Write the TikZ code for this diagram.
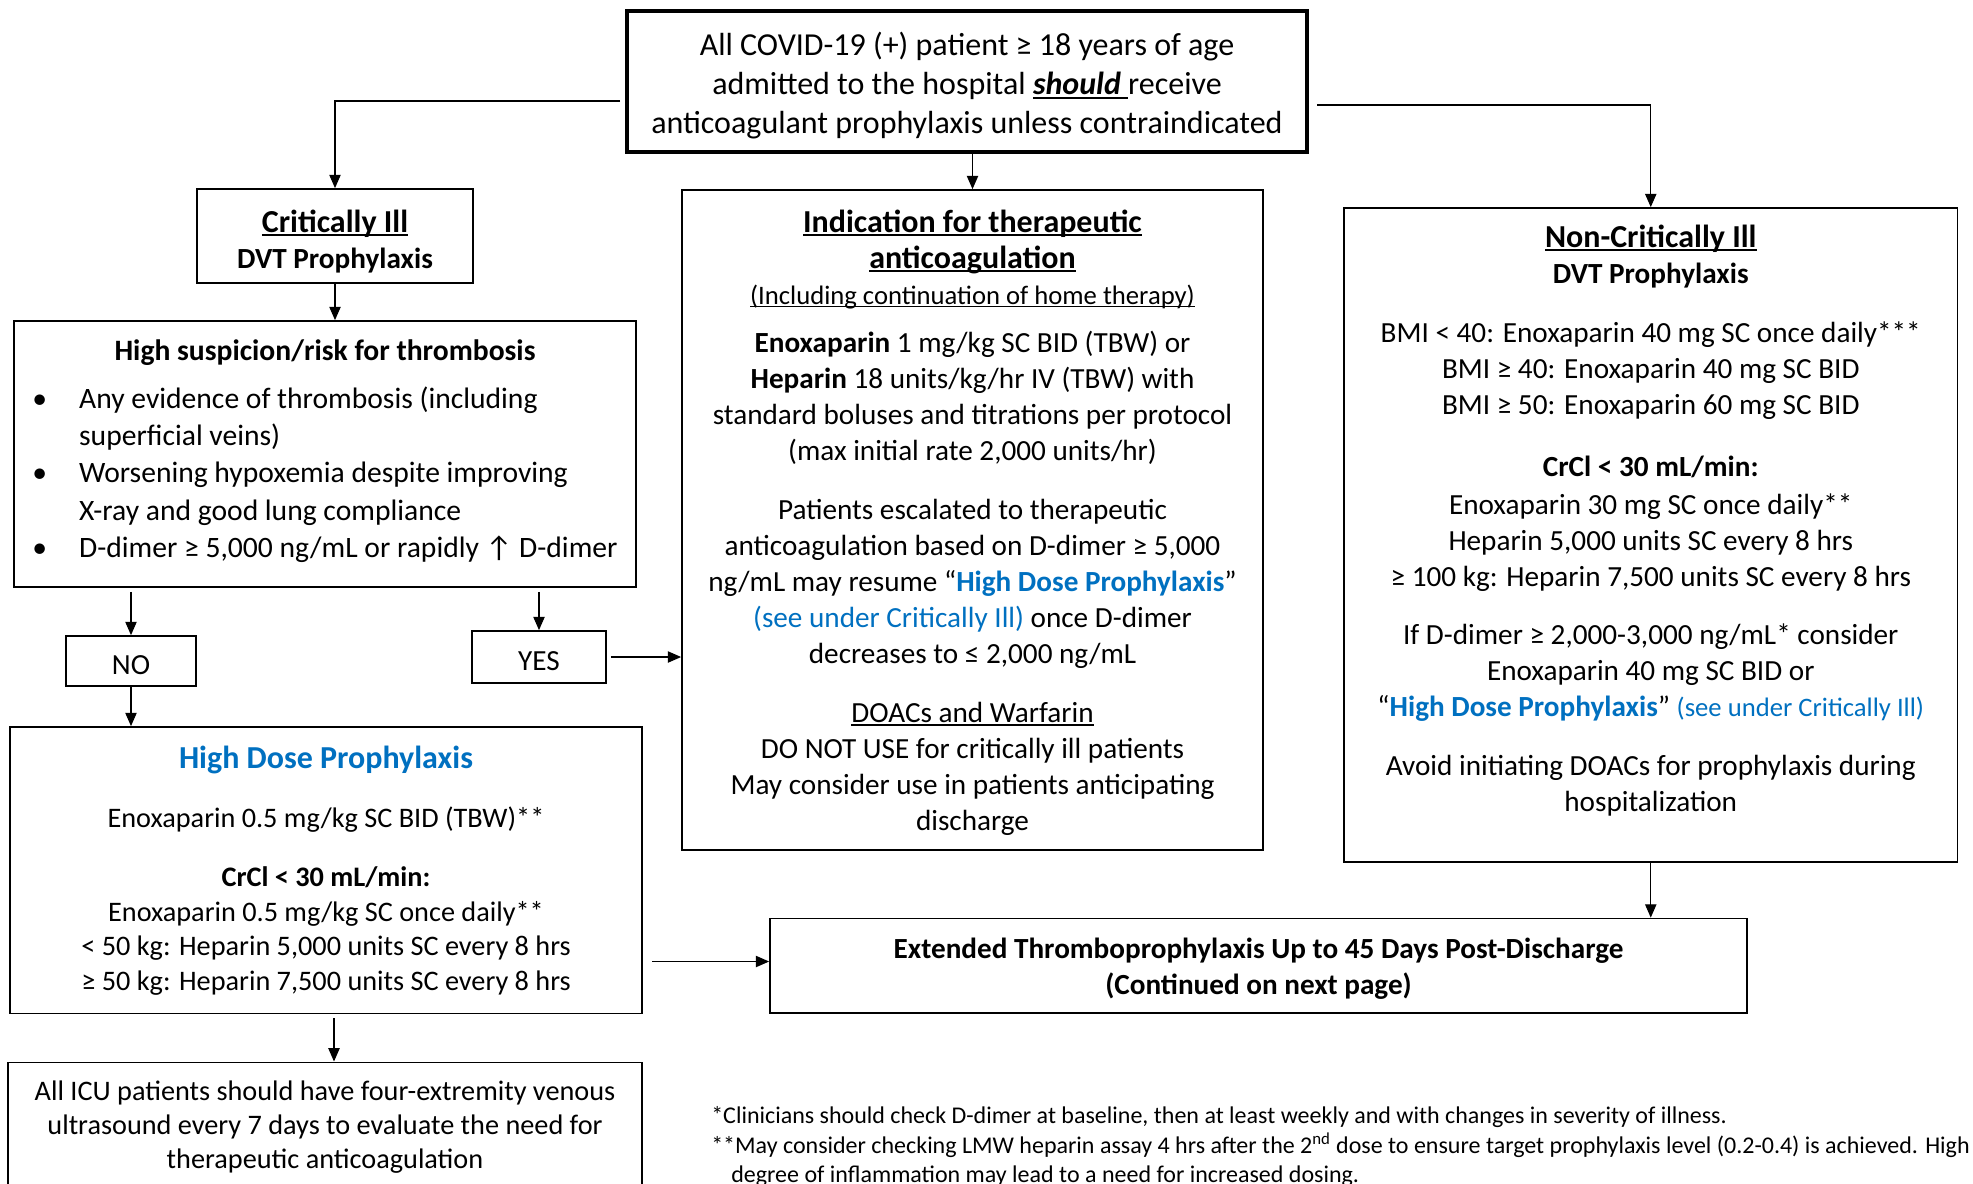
\documentclass[tikz,border=0pt]{standalone}
\usepackage{fontspec}
\setmainfont{Carlito}
\usepackage{xcolor}
\usetikzlibrary{arrows.meta, positioning, calc}
\definecolor{hdpblue}{RGB}{0,112,192}
\newsavebox{\ulbox}
\newcommand{\wordul}[1]{\sbox\ulbox{#1}\rlap{\rule[-0.12em]{\wd\ulbox}{0.065em}}\usebox\ulbox}
\newcommand{\headf}{\fontsize{24}{29}\selectfont}

\begin{document}
\begin{tikzpicture}[x=0.75pt,y=0.75pt,yscale=-1,xscale=1,
  box/.style={draw, line width=1.3pt, align=center, inner sep=2pt, font=\fontsize{21.9}{27}\selectfont},
  conn/.style={line width=0.9pt, -{Triangle[length=10pt,width=8.5pt]}}]
\useasboundingbox (0,0) rectangle (1973,1183);
\clip (0,0) rectangle (1973,1183);

%Shape: Rectangle [id:covid]
\node [box, line width=2.8pt, minimum width=510pt, minimum height=105.75pt, font=\fontsize{24}{29.25}\selectfont] (covid) at (967,81.5)
  {\rule{0pt}{24pt}All COVID-19 (+) patient ≥ 18 years of age\\
   admitted to the hospital \wordul{\textbf{\textit{should}}\ }receive\\
   anticoagulant prophylaxis unless contraindicated};
%Shape: Rectangle [id:crit]
\node [box, minimum width=207pt, minimum height=70.5pt] (crit) at (335,236)
  {\rule{0pt}{25pt}{\headf\wordul{\textbf{Critically Ill}}}\\ \textbf{DVT Prophylaxis}};
%Shape: Rectangle [id:susp]
\node [box, minimum width=466.5pt, minimum height=199.5pt, font=\fontsize{22.2}{27.8}\selectfont] (susp) at (325,454)
  {\textbf{High suspicion/risk for thrombosis}\\[12pt]
   \begin{tabular}{@{}l@{}l@{}}
   \makebox[35pt][l]{\textbullet} & Any evidence of thrombosis (including\\
    & superficial veins)\\
   \makebox[35pt][l]{\textbullet} & Worsening hypoxemia despite improving\\
    & X-ray and good lung compliance\\
   \makebox[35pt][l]{\textbullet} & D-dimer ≥ 5,000 ng/mL or rapidly ↑ D-dimer
   \end{tabular}};
%Shape: Rectangle [id:no]
\node [box, minimum width=97.5pt, minimum height=37.5pt] (no) at (131,661) {\rule{0pt}{20pt}NO};
%Shape: Rectangle [id:yes]
\node [box, minimum width=100.5pt, minimum height=39pt] (yes) at (539,657) {\rule{0pt}{20pt}YES};
%Shape: Rectangle [id:indic]
\node [box, minimum width=435.75pt, minimum height=495pt] (indic) at (972.5,520)
  {\rule{0pt}{21pt}{\headf\wordul{\textbf{Indication for therapeutic}}}\\
   {\headf\wordul{\textbf{anticoagulation}}}\\
   {\fontsize{20}{24}\selectfont\wordul{(Including continuation of home therapy)}}\\[9pt]
   \textbf{Enoxaparin} 1 mg/kg SC BID (TBW) or\\
   \textbf{Heparin} 18 units/kg/hr IV (TBW) with\\
   standard boluses and titrations per protocol\\
   (max initial rate 2,000 units/hr)\\[17.5pt]
   Patients escalated to therapeutic\\
   anticoagulation based on D-dimer ≥ 5,000\\
   ng/mL may resume “\textcolor{hdpblue}{\textbf{High Dose Prophylaxis}}”\\
   \textcolor{hdpblue}{(see under Critically Ill)} once D-dimer\\
   decreases to ≤ 2,000 ng/mL\\[17.5pt]
   \wordul{DOACs and Warfarin}\\
   DO NOT USE for critically ill patients\\
   May consider use in patients anticipating\\
   discharge};
%Shape: Rectangle [id:noncrit]
\node [box, minimum width=460pt, minimum height=490.5pt] (noncrit) at (1650.75,535)
  {{\headf\wordul{\textbf{Non-Critically Ill}}}\\
   \textbf{DVT Prophylaxis}\\[17.5pt]
   BMI < 40: Enoxaparin 40 mg SC once daily***\\
   BMI ≥ 40: Enoxaparin 40 mg SC BID\\
   BMI ≥ 50: Enoxaparin 60 mg SC BID\\[19.5pt]
   \textbf{CrCl < 30 mL/min:}\\[1.5pt]
   Enoxaparin 30 mg SC once daily**\\
   Heparin 5,000 units SC every 8 hrs\\
   ≥ 100 kg: Heparin 7,500 units SC every 8 hrs\\[16.5pt]
   If D-dimer ≥ 2,000-3,000 ng/mL* consider\\
   Enoxaparin 40 mg SC BID or\\
   “\textcolor{hdpblue}{\textbf{High Dose Prophylaxis}}” \textcolor{hdpblue}{\fontsize{20}{24}\selectfont(see under Critically Ill)}\\[17.5pt]
   Avoid initiating DOACs for prophylaxis during\\
   hospitalization\\[-2pt]\mbox{}};
%Shape: Rectangle [id:hdp]
\node [box, minimum width=474pt, minimum height=214.9pt, font=\fontsize{21.2}{25.9}\selectfont] (hdp) at (326,870.25)
  {{\headf\textcolor{hdpblue}{\textbf{High Dose Prophylaxis}}}\\[18.5pt]
   Enoxaparin 0.5 mg/kg SC BID (TBW)**\\[18.5pt]
   \textbf{CrCl < 30 mL/min:}\\
   Enoxaparin 0.5 mg/kg SC once daily**\\
   < 50 kg: Heparin 5,000 units SC every 8 hrs\\
   ≥ 50 kg: Heparin 7,500 units SC every 8 hrs};
%Shape: Rectangle [id:ext]
\node [box, minimum width=732.75pt, minimum height=70.9pt] (ext) at (1258.5,965.75)
  {\rule{0pt}{20pt}\textbf{Extended Thromboprophylaxis Up to 45 Days Post-Discharge}\\
   \textbf{(Continued on next page)}};
%Shape: Rectangle [id:icu]
\node [box, anchor=north, inner ysep=14pt, minimum width=475.5pt, font=\fontsize{21.2}{25.5}\selectfont] (icu) at (325,1061.5)
  {All ICU patients should have four-extremity venous\\
   ultrasound every 7 days to evaluate the need for\\
   therapeutic anticoagulation\\[6pt]\mbox{}};

% Text Node
\node [anchor=north west, inner sep=0pt, align=left, font=\fontsize{18}{22}\selectfont] (notes) at (711,1106.5)
  {*Clinicians should check D-dimer at baseline, then at least weekly and with changes in severity of illness.\\
   **May consider checking LMW heparin assay 4 hrs after the 2\textsuperscript{nd} dose to ensure target prophylaxis level (0.2-0.4) is achieved. High\\
   \hspace*{15pt}degree of inflammation may lead to a need for increased dosing.};

%Straight Lines
\coordinate (covidL) at (620,101);
\coordinate (covidR) at (1317,105);
\coordinate (hdpR) at (652,961.5);
\draw [conn] (covidL) -| (crit);
\draw [conn] (covidR) -| (noncrit);
\draw [conn] (covid.south -| indic.north) -- (indic.north);
\draw [conn] (crit) -- (crit |- susp.north);
\draw [conn, shorten <=3pt] (susp.south -| no) -- (no);
\draw [conn, shorten <=3pt] (susp.south -| yes) -- (yes);
\draw [conn, shorten <=3pt] (yes) -- (yes -| indic.west);
\draw [conn] (no) -- (no |- hdp.north);
\draw [conn] (hdpR) -- (hdpR -| ext.west);
\draw [conn, shorten <=3pt] ([xshift=6pt]hdp.south) -- ([xshift=6pt]hdp.south |- icu.north);
\draw [conn] (noncrit.south) -- (noncrit.south |- ext.north);

\end{tikzpicture}
\end{document}
